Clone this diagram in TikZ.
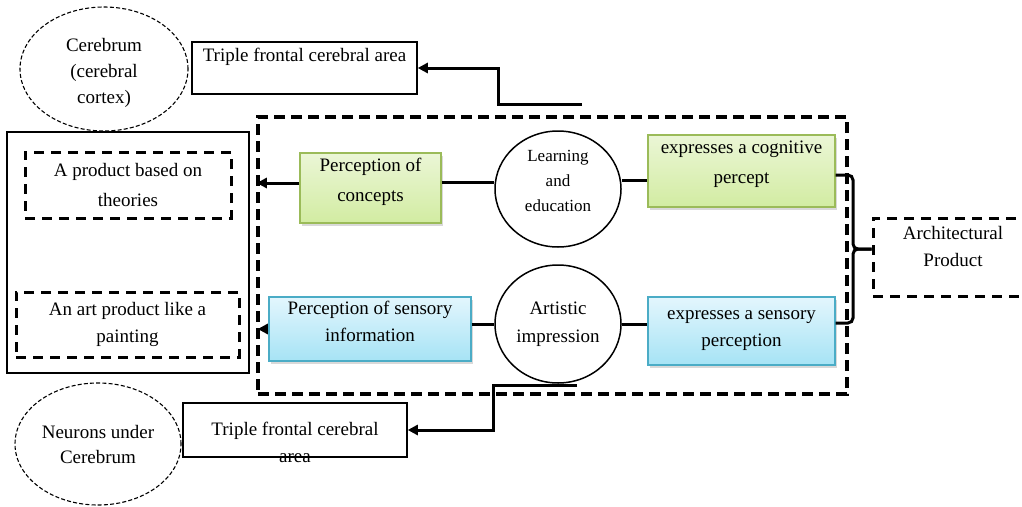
\documentclass[tikz,border=0pt]{standalone}
\usepackage{fontspec}
\setmainfont{Liberation Serif}
\usetikzlibrary{arrows.meta,shapes.geometric,shadows,calc}
\definecolor{gtop}{HTML}{EBF6D6}
\definecolor{gbot}{HTML}{D2ECA2}
\definecolor{gline}{HTML}{9BBB59}
\definecolor{btop}{HTML}{E3F6FD}
\definecolor{bbot}{HTML}{A6E3F5}
\definecolor{bline}{HTML}{4BACC6}
\begin{document}
\begin{tikzpicture}[x=1pt,y=-1pt,
  every node/.style={font=\fontsize{19}{27}\selectfont, inner sep=0pt, align=center},
  conn/.style={line width=3pt},
  arr/.style={line width=3pt,-{Triangle[length=10pt,width=10pt]}},
  thinbox/.style={draw, line width=1.5pt, rectangle},
  dashell/.style={draw, ellipse, line width=1.1pt, dash pattern=on 4pt off 2.2pt},
  solidell/.style={draw, ellipse, line width=1.5pt},
  dbox/.style={draw, rectangle, line width=3pt, dash pattern=on 10pt off 7pt},
  bigdash/.style={draw, rectangle, line width=4pt, dash pattern=on 11pt off 6pt},
  greenbox/.style={draw=gline, line width=1.2pt, rectangle, top color=gtop, bottom color=gbot,
    drop shadow={shadow xshift=2pt, shadow yshift=-2.5pt, opacity=0.3}},
  bluebox/.style={draw=bline, line width=1.2pt, rectangle, top color=btop, bottom color=bbot,
    drop shadow={shadow xshift=2pt, shadow yshift=-2.5pt, opacity=0.3}},
  bracepath/.style={line width=3pt, rounded corners=5pt}
]
\useasboundingbox (0,0) rectangle (1022,506);

% big dashed frame
\node[bigdash, minimum width=589pt, minimum height=277pt] (big) at (552.5,255.5) {};

% top ellipse and box
\node[dashell, minimum width=168pt, minimum height=124pt, font=\fontsize{19}{26}\selectfont] (e1) at (104,69) {\mbox{}\\[-4pt]Cerebrum\\(cerebral\\cortex)};
\node[thinbox, minimum width=225pt, minimum height=52pt, font=\fontsize{19}{26}\selectfont] (t1) at (304.5,68) {Triple frontal cerebral area\\\mbox{}};

% left solid rectangle with dashed boxes
\node[thinbox, minimum width=242pt, minimum height=241pt] (s) at (128,252.5) {};
\node[dbox, minimum width=206pt, minimum height=66pt, font=\fontsize{19}{30}\selectfont] (d1) at (128,185) {A product based on\\theories};
\node[dbox, minimum width=223pt, minimum height=65pt] (d2) at (127.5,324.5) {An art product like a\\painting};

% inner row 1
\node[greenbox, minimum width=141pt, minimum height=70pt, font=\fontsize{19}{30}\selectfont] (g1) at (370.5,188) {Perception of\\concepts\\[-13pt]\mbox{}};
\node[solidell, minimum width=126pt, minimum height=116pt, font=\fontsize{17}{25}\selectfont] (l1) at (558,189) {Learning\\and\\education\\[-8pt]\mbox{}};
\node[greenbox, minimum width=187pt, minimum height=72pt, font=\fontsize{19}{30}\selectfont] (g2) at (741.5,171) {expresses a cognitive\\percept\\[-13pt]\mbox{}};

% inner row 2
\node[bluebox, minimum width=202pt, minimum height=64pt] (b1) at (370,329) {Perception of sensory\\information\\[-12pt]\mbox{}};
\node[solidell, minimum width=126pt, minimum height=118pt, font=\fontsize{19}{28}\selectfont] (l2) at (558,324) {Artistic\\impression};
\node[bluebox, minimum width=187pt, minimum height=68pt] (b2) at (741.5,331) {expresses a sensory\\perception};

% architectural product (cut at right border)
\node[dbox, minimum width=160pt, minimum height=78pt] (a) at (953,257) {Architectural\\Product\\[-6pt]\mbox{}};

% bottom ellipse and box
\node[dashell, minimum width=166pt, minimum height=122pt, font=\fontsize{19}{25}\selectfont] (e2) at (98,444) {Neurons under\\Cerebrum};
\node[thinbox, minimum width=224pt, minimum height=54pt] (t2) at (295,430) {};
\node (t2txt) at (t2.center) {\strut\\\strut Triple frontal cerebral\\\strut area};

% connectors inside
\draw[arr, shorten >=7pt] ([yshift=5pt]g1.west) -- ([yshift=5pt]g1.west -| s.east);
\draw[conn] ([yshift=6pt]g1.east) -- ([yshift=6pt]g1.east -| l1.west);
\draw[conn] ([yshift=-9pt]g2.west -| l1.east) -- ([yshift=-9pt]g2.west);
\draw[arr, shorten >=8pt] (b1.west) -- (b1.west -| s.east);
\draw[conn] (b1.east |- l2.west) -- (l2.west);
\draw[conn] (l2.east) -- (l2.east -| b2.west);

% brace to architectural product
\coordinate (bt) at ([yshift=-4pt]g2.east);
\coordinate (bb) at ([yshift=8pt]b2.east);
\coordinate (bm) at (853,249);
\draw[bracepath] (bt) -- (bt -| bm) -- (bm) -- (bm -| a.west);
\draw[bracepath] (bb) -- (bb -| bm) -- (bm) -- (bm -| a.west);

% outer connectors
\coordinate (c1) at (582,104);
\draw[arr] (c1) -- ++(-84,0) |- (t1.east);
\coordinate (c2) at (577,385);
\draw[arr] (c2) -- ++(-84,0) |- (t2.east);
\end{tikzpicture}
\end{document}
